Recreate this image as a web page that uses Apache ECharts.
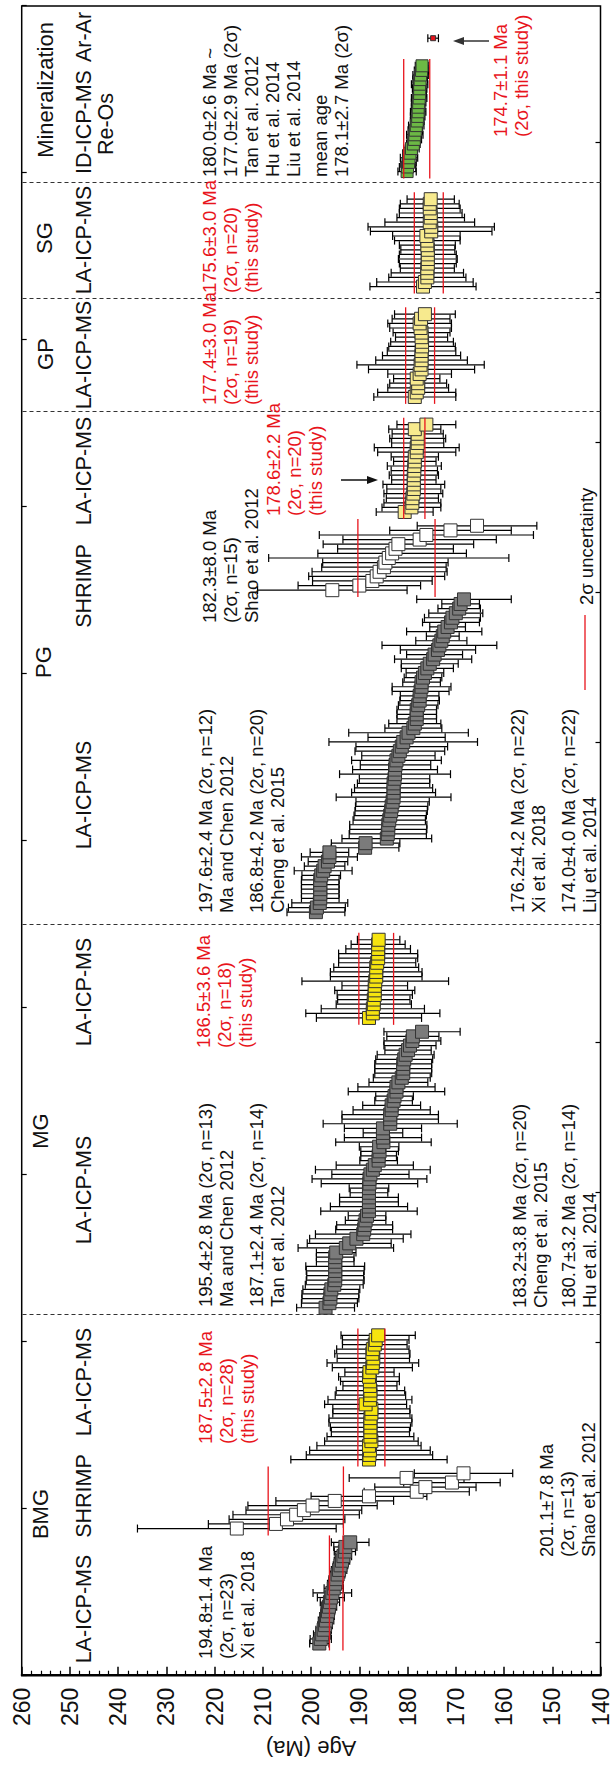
<!DOCTYPE html>
<html><head><meta charset="utf-8">
<script src="https://cdn.jsdelivr.net/npm/echarts@6/dist/echarts.min.js"></script>
<style>
html,body{margin:0;padding:0;background:#fff;overflow:hidden;width:612px;height:1767px;}
#wrap{position:absolute;left:0;top:0;width:1767px;height:612px;transform-origin:0 0;transform:translateY(1767px) rotate(-90deg);}
</style></head><body><div id="wrap"></div>
<script>
// ---------- DATA (ages in Ma, 2-sigma errors) ----------
const bmgXiAge = [198.3,198.0,197.7,197.4,197.1,196.9,196.7,196.5,196.3,196.1,195.9,195.6,195.3,195.0,194.8,194.5,194.2,193.9,193.6,193.3,193.0,192.9,191.9];
const bmgXiErr = [2.0,2.2,1.8,1.6,1.5,1.6,1.5,1.4,1.6,2.0,2.8,4.0,2.0,1.6,1.5,1.5,1.6,1.5,1.6,1.7,2.2,2.4,3.9];
const bmgShrimpAge = [215.4,207.3,205.0,203.1,201.5,199.7,195.1,188.0,178.1,176.3,170.8,180.2,168.4];
const bmgShrimpErr = [20.6,14.0,12.0,13.1,12.0,13.4,12.2,12.0,10.9,10.5,10.0,11.9,10.2];
const bmgThisAge = [188.0,187.9,187.8,188.0,187.5,187.7,187.7,187.7,187.7,187.7,187.5,187.5,188.7,187.8,187.7,187.7,187.8,187.8,188.0,187.9,187.3,187.2,187.1,187.3,187.2,186.8,186.6,186.1];
const bmgThisErr = [16.2,13.1,12.5,10.8,9.7,9.0,8.1,8.3,8.6,8.6,8.0,8.0,8.5,8.7,7.3,7.1,5.6,6.1,6.3,5.1,8.3,9.5,7.5,7.8,7.5,6.7,6.9,7.7];
const mgLitAge = [197.0,196.2,196.0,196.0,195.8,195.2,195.0,195.0,195.0,195.0,195.0,195.0,194.8,192.8,192.1,190.6,189.2,189.0,188.9,188.7,188.4,188.0,188.0,188.0,188.0,188.0,188.0,187.9,187.9,187.7,187.2,186.8,186.0,186.0,185.8,185.9,185.0,185.1,185.1,185.1,183.6,183.6,183.6,183.3,183.3,182.9,182.7,182.3,182.3,181.9,181.2,180.9,180.9,180.9,180.7,180.4,179.9,179.5,179.0,178.9,177.0];
const mgLitErr = [6.0,5.8,5.9,5.9,5.9,6.0,6.0,5.9,6.0,6.1,3.9,3.9,4.1,9.9,8.7,9.7,9.9,5.9,5.8,4.2,3.9,10.0,8.0,6.1,6.1,3.9,4.1,10.0,11.9,8.0,11.9,8.0,3.9,3.7,3.9,4.1,9.9,8.0,4.1,8.0,13.9,10.0,10.0,8.0,6.0,3.9,3.9,10.0,8.0,6.1,5.9,5.9,5.9,5.9,5.9,5.9,4.8,5.4,5.9,5.4,7.9];
const mgThisAge = [188.0,187.2,187.2,187.0,187.0,186.8,186.8,186.8,186.7,186.5,186.5,186.5,186.3,186.1,186.1,186.1,186.1,186.0];
const mgThisErr = [10.9,13.9,10.7,7.8,7.5,7.8,8.3,6.8,15.2,9.5,9.5,8.8,8.0,8.2,8.2,6.7,5.6,4.4];
const pgLitAge = [199.0,198.8,198.2,198.1,198.1,198.1,198.1,198.1,197.9,197.5,197.2,196.5,196.2,196.2,188.8,188.7,184.3,184.1,184.0,184.0,183.8,183.6,183.4,183.3,183.1,182.9,182.9,182.9,182.9,182.7,182.6,182.6,182.5,182.3,181.9,181.6,181.2,180.9,180.2,179.8,178.8,178.5,178.1,178.1,178.1,177.8,177.5,177.5,177.3,177.1,177.1,176.8,176.4,175.9,175.4,174.7,174.4,173.7,173.4,173.0,172.7,172.4,171.7,171.0,170.7,170.0,169.3,169.0,168.3];
const pgLitErr = [6.0,5.9,5.8,3.9,3.9,3.9,3.9,3.9,4.0,6.0,4.2,4.1,5.8,4.0,7.0,7.1,9.3,8.0,8.0,8.0,7.5,7.5,7.5,7.5,7.6,11.9,8.7,8.1,7.5,7.3,11.5,8.8,7.3,9.3,7.6,9.3,9.5,15.4,8.0,12.4,5.9,5.4,4.1,4.1,4.1,4.1,4.1,4.0,5.9,6.1,3.9,3.9,3.9,5.4,5.9,8.0,5.8,7.8,11.9,5.3,3.4,7.8,3.7,5.9,5.8,5.6,4.4,3.9,9.8];
const pgShrimpAge = [195.6,190.0,187.3,186.4,185.8,184.9,184.6,183.9,183.2,182.5,181.9,177.5,176.1,171.1,165.6];
const pgShrimpErr = [15.5,12.7,12.4,14.1,14.0,12.9,13.0,24.9,15.4,12.0,15.6,15.9,22.2,12.6,12.4];
const pgThisAge = [180.6,179.2,179.0,179.0,178.8,178.7,178.7,178.7,178.7,178.6,178.6,178.5,178.5,178.1,178.1,177.9,177.9,177.9,178.5,176.1];
const pgThisErr = [5.9,6.1,5.9,5.4,6.1,5.6,6.4,4.6,5.1,4.8,5.6,4.4,4.9,8.1,8.8,5.4,5.8,5.3,5.4,6.1];
const gpAge = [178.5,178.1,177.8,177.8,178.1,177.5,177.1,177.3,177.1,177.1,177.1,177.0,177.0,177.1,177.1,177.3,177.5,177.2,176.4];
const gpErr = [8.5,8.1,6.3,5.9,4.8,6.6,11.0,13.2,9.5,8.1,7.1,6.9,6.5,5.4,5.9,6.4,6.6,6.0,6.3];
const sgAge = [176.8,176.4,175.9,175.9,175.9,175.8,175.8,175.8,175.8,175.9,175.9,176.1,175.1,175.1,175.4,175.2,175.2,175.4,175.4,175.2];
const sgErr = [11.0,10.0,8.0,7.5,5.6,5.9,6.1,5.9,5.6,5.8,6.8,7.0,12.6,13.1,9.3,7.0,6.5,6.3,6.1,4.9];
const reosAge = [180.1,180.0,179.8,179.7,179.5,179.2,178.8,178.6,178.5,178.4,178.2,178.0,177.9,177.8,177.8,177.7,177.6,177.5,177.5,177.5,177.4,177.3,177.1,177.0];
const reosErr = [1.9,1.7,1.6,1.8,1.5,1.6,1.4,1.5,1.7,1.5,1.6,1.4,1.5,1.6,1.4,1.5,1.6,1.4,1.5,1.7,1.5,1.6,1.5,1.4];
const arAge = [174.7];
const arErr = [1.1];

// sample-number position of the first analysis of each group
const groupStart = [7, 32, 47, 80, 143, 166, 236, 253, 278, 302, 327, 356];
const groupAges = [bmgXiAge, bmgShrimpAge, bmgThisAge, mgLitAge, mgThisAge, pgLitAge, pgShrimpAge, pgThisAge, gpAge, sgAge, reosAge, arAge];
const groupErrs = [bmgXiErr, bmgShrimpErr, bmgThisErr, mgLitErr, mgThisErr, pgLitErr, pgShrimpErr, pgThisErr, gpErr, sgErr, reosErr, arErr];
// weighted mean ages and their 2-sigma uncertainties (red lines)
const meanAge = [194.8, 201.1, 187.5, null, 186.5, null, 182.3, 178.6, 177.4, 175.6, 178.1, null];
const meanErr = [1.4, 7.8, 2.8, null, 3.6, null, 8.0, 2.2, 3.0, 3.0, 2.7, null];
// column separators (sample-number positions)
const columnBreaks = [78.5, 163.3, 274.8, 299.3, 324.6];
const ageMin = 140, ageMax = 260, ageStep = 10;
const slotMax = 363;
const bottomTickSlots = [7.2, 39.8, 72.4, 105.0, 137.6, 170.2, 202.8, 235.4, 268.0, 300.6, 333.2];

// ---------- STYLE ----------
const GRAY = '#7b7b7b', YEL = '#f6e40f', LYEL = '#f7ea8e', WHITE = '#ffffff', GREEN = '#6cb845', RED = '#e8141c';
const groupFill = [GRAY, WHITE, YEL, GRAY, YEL, GRAY, WHITE, LYEL, LYEL, LYEL, GREEN, RED];
const groupSize = [13, 13, 13, 13, 13, 13, 13, 13, 13, 13, 12, 5];
const FONT = "'Liberation Sans', Arial, Helvetica, sans-serif";

const chart = echarts.init(document.getElementById('wrap'), null, {renderer: 'svg', width: 1767, height: 612});

function errItem(params, api) {
  const x = api.value(0), a = api.value(1), e = api.value(2);
  const p1 = api.coord([x, a - e]), p2 = api.coord([x, a + e]);
  const c = 4, st = {stroke: '#000', lineWidth: 1.2};
  return {type: 'group', children: [
    {type: 'line', shape: {x1: p1[0], y1: p1[1], x2: p2[0], y2: p2[1]}, style: st},
    {type: 'line', shape: {x1: p1[0] - c, y1: p1[1], x2: p1[0] + c, y2: p1[1]}, style: st},
    {type: 'line', shape: {x1: p2[0] - c, y1: p2[1], x2: p2[0] + c, y2: p2[1]}, style: st}
  ]};
}
function meanItem(params, api) {
  const x0 = api.value(0), x1 = api.value(1), m = api.value(2), e = api.value(3);
  const st = {stroke: RED, lineWidth: 1.3};
  const a0 = api.coord([x0, m - e]), a1 = api.coord([x1, m - e]);
  const b0 = api.coord([x0, m + e]), b1 = api.coord([x1, m + e]);
  return {type: 'group', children: [
    {type: 'line', shape: {x1: a0[0], y1: a0[1], x2: a1[0], y2: a1[1]}, style: st},
    {type: 'line', shape: {x1: b0[0], y1: b0[1], x2: b1[0], y2: b1[1]}, style: st}
  ]};
}

const series = [];
groupAges.forEach((ages, g) => {
  const pts = ages.map((a, i) => [groupStart[g] + i, a, groupErrs[g][i]]);
  series.push({type: 'custom', renderItem: errItem, data: pts, encode: {x: 0, y: 1}, z: 2, silent: true, animation: false});
  series.push({type: 'scatter', data: pts.map(p => [p[0], p[1]]), symbol: 'rect', symbolSize: groupSize[g],
    itemStyle: {color: groupFill[g], borderColor: '#333', borderWidth: 1, opacity: 1}, z: 3, silent: true, animation: false});
});
const meanData = [];
meanAge.forEach((m, g) => {
  if (m === null) return;
  meanData.push([groupStart[g] - 1.5, groupStart[g] + groupAges[g].length - 1 + 1.5, m, meanErr[g]]);
});
series.push({type: 'custom', renderItem: meanItem, data: meanData, encode: {x: [0, 1], y: 2}, z: 4, silent: true, animation: false,
  markLine: {silent: true, symbol: ['none', 'none'], animation: false, label: {show: false},
    lineStyle: {type: [4, 3], color: '#333', width: 1.2},
    data: columnBreaks.map(v => ({xAxis: v}))}});

// ---------- TEXT ----------
function txt(x, y, text, color, size, align, va) {
  return {type: 'text', x: x, y: y, silent: true, z: 10,
    style: {text: text, fill: color, fontSize: size, fontFamily: FONT, lineHeight: 21,
      align: align || 'left', verticalAlign: va || 'top'}};
}
const K = '#111', R = RED;
const graphics = [
  // column headers
  txt(253, 40, 'BMG', K, 22, 'center', 'middle'),
  txt(636, 40, 'MG', K, 22, 'center', 'middle'),
  txt(1105, 43, 'PG', K, 22, 'center', 'middle'),
  txt(1413, 45, 'GP', K, 22, 'center', 'middle'),
  txt(1529, 44, 'SG', K, 22, 'center', 'middle'),
  txt(1677, 45, 'Mineralization', K, 22, 'center', 'middle'),
  txt(158, 84, 'LA-ICP-MS', K, 21.5, 'center', 'middle'),
  txt(271, 84, 'SHRIMP', K, 21.5, 'center', 'middle'),
  txt(385, 84, 'LA-ICP-MS', K, 21.5, 'center', 'middle'),
  txt(577, 84, 'LA-ICP-MS', K, 21.5, 'center', 'middle'),
  txt(775, 84, 'LA-ICP-MS', K, 21.5, 'center', 'middle'),
  txt(972, 84, 'LA-ICP-MS', K, 21.5, 'center', 'middle'),
  txt(1181, 84, 'SHRIMP', K, 21.5, 'center', 'middle'),
  txt(1296, 84, 'LA-ICP-MS', K, 21.5, 'center', 'middle'),
  txt(1412, 84, 'LA-ICP-MS', K, 21.5, 'center', 'middle'),
  txt(1527, 84, 'LA-ICP-MS', K, 21.5, 'center', 'middle'),
  txt(1645, 84, 'ID-ICP-MS', K, 21.5, 'center', 'middle'),
  txt(1730, 84, 'Ar-Ar', K, 21.5, 'center', 'middle'),
  txt(1643, 106, 'Re-Os', K, 21.5, 'center', 'middle'),
  // annotations
  txt(108, 195, '194.8±1.4 Ma\n(2σ, n=23)\nXi et al. 2018', K, 18.5),
  txt(210, 536, '201.1±7.8 Ma\n(2σ, n=13)\nShao et al. 2012', K, 18.5),
  txt(323, 195, '187.5±2.8 Ma\n(2σ, n=28)\n(this study)', R, 18.5),
  txt(460, 195, '195.4±2.8 Ma (2σ, n=13)\nMa and Chen 2012', K, 18.5),
  txt(460, 246, '187.1±2.4 Ma (2σ, n=14)\nTan et al. 2012', K, 18.5),
  txt(459, 509, '183.2±3.8 Ma (2σ, n=20)\nCheng et al. 2015', K, 18.5),
  txt(459, 558, '180.7±3.2 Ma (2σ, n=14)\nHu et al. 2014', K, 18.5),
  txt(719, 193, '186.5±3.6 Ma\n(2σ, n=18)\n(this study)', R, 18.5),
  txt(854, 195, '197.6±2.4 Ma (2σ, n=12)\nMa and Chen 2012', K, 18.5),
  txt(854, 246, '186.8±4.2 Ma (2σ, n=20)\nCheng et al. 2015', K, 18.5),
  txt(854, 507, '176.2±4.2 Ma (2σ, n=22)\nXi et al. 2018', K, 18.5),
  txt(854, 558, '174.0±4.0 Ma (2σ, n=22)\nLiu et al. 2014', K, 18.5),
  txt(1144, 199, '182.3±8.0 Ma\n(2σ, n=15)\nShao et al. 2012', K, 18.5),
  txt(1251, 263, '178.6±2.2 Ma\n(2σ, n=20)\n(this study)', R, 18.5),
  txt(1362, 199, '177.4±3.0 Ma\n(2σ, n=19)\n(this study)', R, 18.5),
  txt(1474, 199, '175.6±3.0 Ma\n(2σ, n=20)\n(this study)', R, 18.5),
  txt(1590, 199, '180.0±2.6 Ma ~\n177.0±2.9 Ma (2σ)\nTan et al. 2012\nHu et al. 2014\nLiu et al. 2014', K, 18.5),
  txt(1590, 310, 'mean age\n178.1±2.7 Ma (2σ)', K, 18.5),
  txt(1630, 490, '174.7±1.1 Ma\n(2σ, this study)', R, 18.5),
  txt(1162, 586, '2σ uncertainty', K, 18.5, 'left', 'middle'),
  // legend line
  {type: 'line', z: 10, silent: true, shape: {x1: 1077, y1: 585, x2: 1152, y2: 585}, style: {stroke: RED, lineWidth: 1.3}},
  // arrows
  {type: 'line', z: 10, silent: true, shape: {x1: 1287, y1: 341, x2: 1287, y2: 370}, style: {stroke: '#111', lineWidth: 1.5}},
  {type: 'polygon', z: 10, silent: true, shape: {points: [[1287, 378], [1283, 367], [1291, 367]]}, style: {fill: '#111'}},
  {type: 'line', z: 10, silent: true, shape: {x1: 1726, y1: 489, x2: 1726, y2: 462}, style: {stroke: '#333', lineWidth: 1.5}},
  {type: 'polygon', z: 10, silent: true, shape: {points: [[1726, 453], [1722, 464], [1730, 464]]}, style: {fill: '#333'}}
];

chart.setOption({
  animation: false,
  backgroundColor: '#fff',
  grid: {left: 91, right: 6, top: 21.7, bottom: 1.3, show: true, borderColor: '#000', borderWidth: 1.5, backgroundColor: 'transparent'},
  xAxis: [
    {type: 'value', position: 'bottom', min: 0, max: slotMax, axisLine: {show: false},
      axisTick: {show: true, inside: true, length: 5, customValues: bottomTickSlots, lineStyle: {color: '#000', width: 1.2}},
      axisLabel: {show: false}, splitLine: {show: false}},
    {type: 'value', position: 'top', min: 0, max: slotMax, interval: slotMax / 10, axisLine: {show: false},
      axisTick: {show: true, inside: true, length: 5, lineStyle: {color: '#000', width: 1.2}},
      axisLabel: {show: false}, splitLine: {show: false}}
  ],
  yAxis: {type: 'value', min: ageMin, max: ageMax, interval: ageStep,
    name: 'Age (Ma)', nameLocation: 'middle', nameRotate: 90, nameGap: 42,
    nameTextStyle: {fontSize: 22, fontFamily: FONT, color: '#111'},
    axisLine: {show: true, lineStyle: {color: '#000', width: 2}},
    axisTick: {show: true, inside: true, length: 9, lineStyle: {color: '#000', width: 1.5}},
    minorTick: {show: true, splitNumber: 5, length: 5, lineStyle: {color: '#000', width: 1.2}},
    splitLine: {show: false}, minorSplitLine: {show: false},
    axisLabel: {fontSize: 23, fontFamily: "'Liberation Sans Narrow', 'Liberation Sans', Arial, sans-serif", color: '#111', margin: 12}},
  series: series,
  graphic: graphics
});
</script></body></html>
